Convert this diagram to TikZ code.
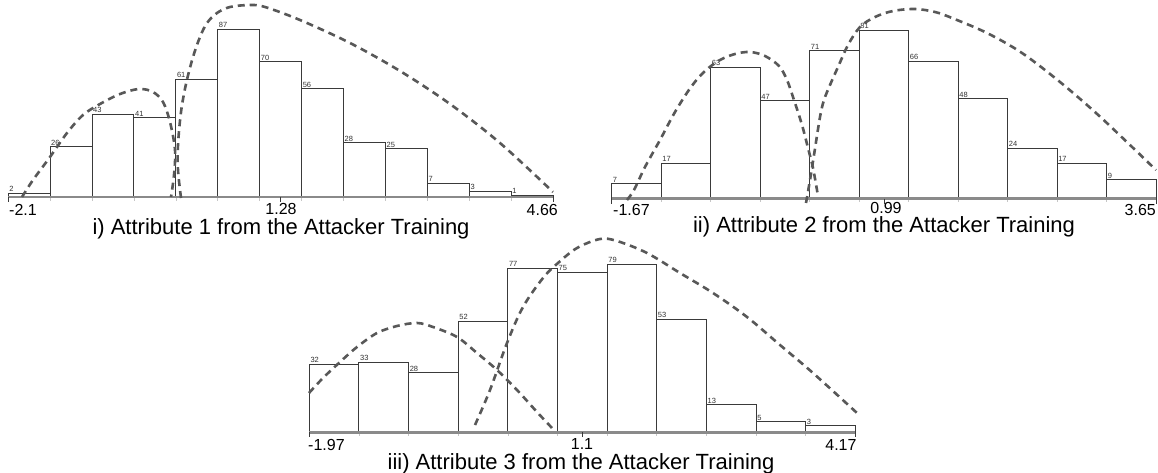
\documentclass[tikz,border=0pt]{standalone}
\usepackage{fontspec}
\setmainfont{Liberation Sans}
\definecolor{barline}{HTML}{3A3A3A}
\definecolor{axisgrey}{HTML}{8A8A8A}
\definecolor{curvegrey}{HTML}{585858}
\definecolor{labelgrey}{HTML}{333333}

% histogram: name, left x, bin width, baseline y, px per count, counts
\newcommand\histogram[6]{%
  \foreach \v [count=\i from 0] in {#6} {
    \draw[bar] ({#2+\i*#3},#4) rectangle ({#2+(\i+1)*#3},{#4-\v*#5});
    \node[binlabel] (#1-\i) at ({#2+\i*#3+1},{#4-\v*#5-1.6}) {\v};
  }%
}
% axis: left x, right x, baseline y, number of bins
\newcommand\histaxis[4]{%
  \foreach \k in {1,...,\numexpr#4-1\relax}
    \draw[minortick] ({#1+\k*(#2-#1)/#4},#3) -- ++(0,3.5);
  \draw[axisline] (#1,#3) -- (#2,#3);
  \foreach \t in {#1,{(#1+#2)/2},#2}
    \draw[tickmark] ({\t},#3) -- ++(0,5);
}

\begin{document}
\begin{tikzpicture}[x=1pt,y=-1pt,
  bar/.style={draw=barline, fill=white, line width=0.9pt},
  axisline/.style={draw=axisgrey, line width=2.6pt},
  tickmark/.style={draw=barline, line width=0.8pt},
  minortick/.style={draw=gray!45, line width=0.6pt},
  fitcurve/.style={draw=curvegrey, line width=2.6pt, dash pattern=on 7pt off 5pt},
  binlabel/.style={inner sep=0pt, anchor=base west, text=labelgrey,
    font=\fontsize{7.5}{8}\selectfont},
  ticklabel/.style={inner sep=0pt, text height=11.5pt, text depth=0pt,
    font=\fontsize{16}{18}\selectfont},
  caption/.style={inner sep=0pt, anchor=base, text height=16pt, text depth=4.5pt,
    font=\fontsize{22}{26}\selectfont}]

\useasboundingbox[fill=white] (0,0) rectangle (1158,473);

% ---------- attribute 1 ----------
\histogram{a}{8.1}{41.93}{197}{1.931}{2,26,43,41,61,87,70,56,28,25,7,3,1}
\histaxis{8.1}{553.2}{197}{13}
\draw[fitcurve] plot[smooth, tension=0.55] coordinates {
  (22,197) (33,180) (50,157) (67,133) (83,115) (100,104) (120,94) (139,89)
  (153,92) (163,102) (170,122) (175,150) (174,175) (171,197)};
\draw[fitcurve] plot[smooth, tension=0.55] coordinates {
  (181,198) (178,170) (178,145) (181,112) (186,84) (193,57) (200,37) (207,23)
  (217,13) (230,7) (250,5) (265,7) (300,20) (350,43) (400,71) (450,104)
  (500,143) (553,192)};
\node[ticklabel, anchor=base west] (a-lo) at (9,215) {-2.1};
\node[ticklabel, anchor=base] (a-mid) at (281,214) {1.28};
\node[ticklabel, anchor=base east] (a-hi) at (558,215) {4.66};
\node[caption] (a-cap) at (281,234) {i) Attribute 1 from the Attacker Training};

% ---------- attribute 2 ----------
\histogram{b}{611.7}{49.49}{198.5}{2.08}{7,17,63,47,71,81,66,48,24,17,9}
\histaxis{611.7}{1156.1}{198.5}{11}
\draw[fitcurve] plot[smooth, tension=0.55] coordinates {
  (627,200) (634,190) (645,167) (660,140) (675,112) (691,87) (705,71) (720,60)
  (735,54) (750,52) (765,56) (779,66) (787,80) (794,100) (802,125) (808,148)
  (813,168) (818,196)};
\draw[fitcurve] plot[smooth, tension=0.55] coordinates {
  (806,203) (810,180) (814,155) (820,117) (824,100) (830,85) (838,67) (848,45)
  (860,27) (875,17) (893,11) (915,9) (935,12) (952,18) (987,33) (1022,53)
  (1060,82) (1096,113) (1130,145) (1156,170)};
\node[ticklabel, anchor=base west] (b-lo) at (613,215) {-1.67};
\node[ticklabel, anchor=base] (b-mid) at (886,213) {0.99};
\node[ticklabel, anchor=base east] (b-hi) at (1156,215) {3.65};
\node[caption] (b-cap) at (884,232) {ii) Attribute 2 from the Attacker Training};

% ---------- attribute 3 ----------
\histogram{c}{309.3}{49.64}{432.3}{2.13}{32,33,28,52,77,75,79,53,13,5,3}
\histaxis{309.3}{855.3}{432.3}{11}
\draw[fitcurve] plot[smooth, tension=0.55] coordinates {
  (309,393) (323,378) (340,362) (357,347) (377,333) (397,326) (417,323)
  (433,327) (457,337) (477,353) (497,370) (517,390) (537,412) (552,428)};
\draw[fitcurve] plot[smooth, tension=0.55] coordinates {
  (475,425) (490,390) (507,343) (523,307) (543,278) (558,263) (577,248)
  (600,239) (617,241) (647,253) (680,273) (713,293) (747,317) (780,345)
  (813,373) (857,413)};
\node[ticklabel, anchor=base west] (c-lo) at (308,450.5) {-1.97};
\node[ticklabel, anchor=base] (c-mid) at (582,449.5) {1.1};
\node[ticklabel, anchor=base east] (c-hi) at (856.7,450.5) {4.17};
\node[caption] (c-cap) at (581,469) {iii) Attribute 3 from the Attacker Training};

\end{tikzpicture}
\end{document}
